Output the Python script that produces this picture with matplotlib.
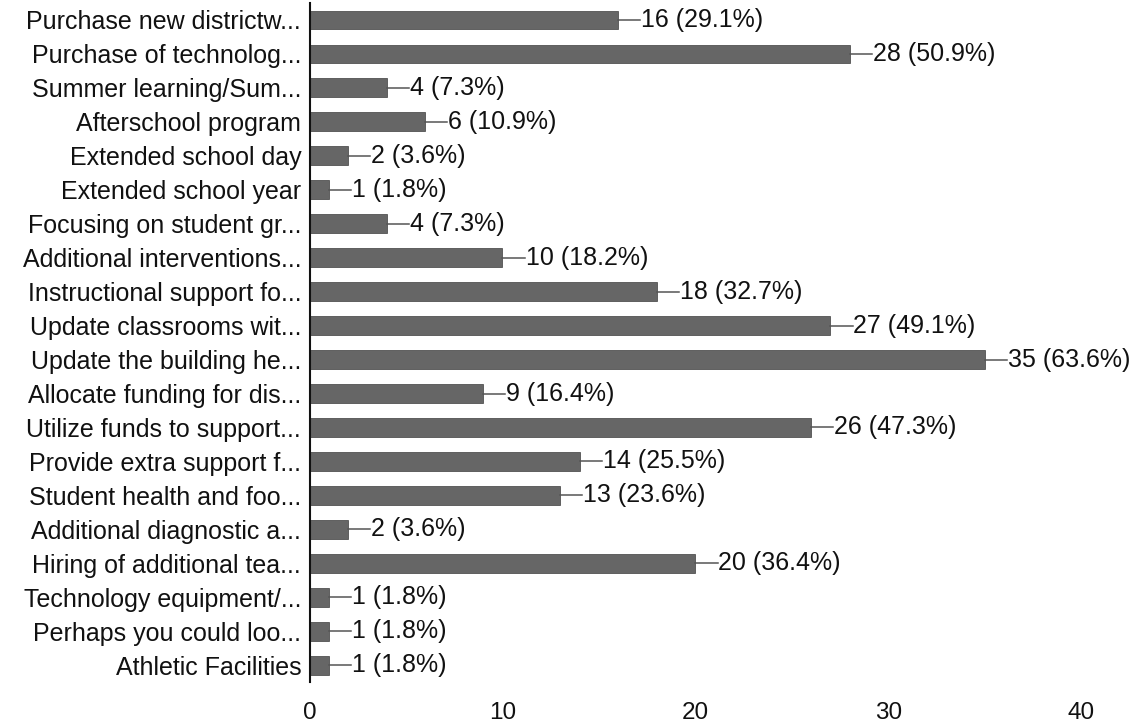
import matplotlib.pyplot as plt

plt.rcParams["font.family"] = ["Liberation Sans", "DejaVu Sans"]

labels = [
    "Purchase new districtw...",
    "Purchase of technolog...",
    "Summer learning/Sum...",
    "Afterschool program",
    "Extended school day",
    "Extended school year",
    "Focusing on student gr...",
    "Additional interventions...",
    "Instructional support fo...",
    "Update classrooms wit...",
    "Update the building he...",
    "Allocate funding for dis...",
    "Utilize funds to support...",
    "Provide extra support f...",
    "Student health and foo...",
    "Additional diagnostic a...",
    "Hiring of additional tea...",
    "Technology equipment/...",
    "Perhaps you could loo...",
    "Athletic Facilities",
]
counts = [16, 28, 4, 6, 2, 1, 4, 10, 18, 27, 35, 9, 26, 14, 13, 2, 20, 1, 1, 1]
percents = ["29.1%", "50.9%", "7.3%", "10.9%", "3.6%", "1.8%", "7.3%", "18.2%",
            "32.7%", "49.1%", "63.6%", "16.4%", "47.3%", "25.5%", "23.6%", "3.6%",
            "36.4%", "1.8%", "1.8%", "1.8%"]
xticks = [0, 10, 20, 30, 40]

fig = plt.figure(figsize=(11.38, 7.25), dpi=100)
ax = fig.add_axes([0.272, 0.059, 0.678, 0.937])

ypos = list(range(len(labels)))
ax.barh(ypos, counts, height=0.55, color="#666666", edgecolor="#3f3f3f", linewidth=0.5)

# connector dash + value label
for y, c, p in zip(ypos, counts, percents):
    ax.plot([c, c + 1.15], [y, y], color="#555555", linewidth=1.1)
    ax.text(c + 1.2, y, f"{c} ({p})", va="center", ha="left", fontsize=18, color="#111111")

ax.set_yticks(ypos)
ax.set_yticklabels(labels, fontsize=18, color="#111111")
ax.set_xticks(xticks)
ax.set_xticklabels([str(t) for t in xticks], fontsize=17.5, color="#111111")
ax.set_xlim(0, 40)
ax.set_ylim(len(labels) - 0.5, -0.5)

ax.tick_params(axis="x", length=0, pad=14)
ax.tick_params(axis="y", length=0, pad=6)
for s in ["top", "right", "bottom"]:
    ax.spines[s].set_visible(False)
ax.spines["left"].set_linewidth(1.5)
ax.spines["left"].set_color("#111111")

fig.savefig("out.png", dpi=100)
